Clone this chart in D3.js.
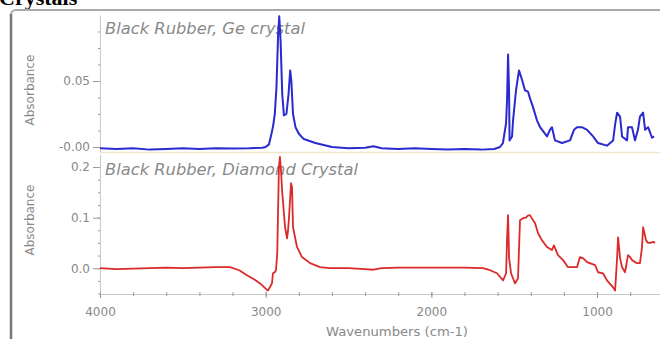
<!DOCTYPE html>
<html>
<head>
<meta charset="utf-8">
<script src="https://cdn.jsdelivr.net/npm/d3@7"></script>
<style>
  body { margin: 0; background: #fff; overflow: hidden; }
  svg { display: block; }
  .tick text { font-family: "DejaVu Sans", sans-serif; font-size: 12px; fill: #888; }
  .axis path.domain { stroke: #c8c8c8; }
  .axis line { stroke: #999; }
</style>
</head>
<body>
<svg id="chart" width="660" height="339"></svg>
<script>
// ---- data ----
var xTicks = [4000, 3000, 2000, 1000];
var geTicks = [0, 0.05];
var diamondTicks = [0, 0.1, 0.2];

// Black Rubber, Ge crystal (top, blue)
var geWavenumbers = [4000, 3900, 3800, 3700, 3600, 3500, 3400, 3300, 3200, 3100, 3020, 3000, 2980, 2965, 2955,
  2945, 2935, 2925, 2918, 2910, 2900, 2890, 2875, 2862, 2852, 2845, 2835, 2820, 2800, 2770, 2700, 2600, 2500,
  2400, 2350, 2300, 2200, 2100, 2000, 1900, 1800, 1700, 1620, 1586, 1568, 1549, 1543, 1537, 1531, 1528, 1513,
  1507, 1489, 1471, 1453, 1435, 1417, 1405, 1386, 1362, 1344, 1302, 1284, 1272, 1254, 1211, 1163, 1139, 1121,
  1091, 1060, 1024, 994, 940, 903, 891, 879, 861, 849, 819, 813, 789, 771, 753, 741, 722, 710, 692, 668, 656];
var geAbsorbance = [-0.001, -0.0015, -0.001, -0.002, -0.0015, -0.001, -0.0015, -0.001, -0.0012, -0.001, -0.0005,
  0.000, 0.002, 0.010, 0.016, 0.025, 0.045, 0.085, 0.099, 0.080, 0.040, 0.024, 0.025, 0.040, 0.058, 0.050, 0.025,
  0.015, 0.010, 0.006, 0.003, 0.000, -0.001, -0.0005, 0.0005, -0.001, -0.0015, -0.001, -0.0015, -0.002, -0.0015,
  -0.002, -0.0015, 0.000, 0.003, 0.018, 0.036, 0.070, 0.043, 0.005, 0.008, 0.020, 0.043, 0.058, 0.051, 0.043,
  0.042, 0.037, 0.030, 0.020, 0.015, 0.008, 0.013, 0.015, 0.005, 0.003, 0.005, 0.013, 0.015, 0.015, 0.013, 0.008,
  0.003, 0.001, 0.005, 0.017, 0.026, 0.023, 0.008, 0.005, 0.015, 0.015, 0.005, 0.013, 0.023, 0.026, 0.013, 0.015,
  0.007, 0.008];

// Black Rubber, Diamond Crystal (bottom, red)
var diamondWavenumbers = [4000, 3900, 3800, 3700, 3600, 3500, 3400, 3300, 3215, 3160, 3113, 3070, 3034, 2995,
  2986, 2962, 2956, 2945, 2938, 2930, 2926, 2920, 2914, 2907, 2901, 2883, 2871, 2865, 2859, 2847, 2841, 2835,
  2811, 2781, 2732, 2672, 2612, 2500, 2400, 2350, 2300, 2200, 2000, 1800, 1688, 1646, 1604, 1567, 1549, 1543,
  1537, 1531, 1519, 1495, 1477, 1465, 1447, 1429, 1417, 1405, 1392, 1374, 1356, 1332, 1302, 1272, 1260, 1236,
  1205, 1175, 1121, 1103, 1085, 1060, 1012, 994, 964, 940, 903, 891, 879, 873, 861, 849, 831, 813, 801, 789, 759,
  741, 729, 722, 704, 692, 680, 662, 650];
var diamondAbsorbance = [0.000, -0.002, -0.001, 0.000, 0.001, 0.000, 0.001, 0.002, 0.002, -0.004, -0.014, -0.022,
  -0.030, -0.042, -0.044, -0.030, -0.010, -0.008, -0.004, 0.030, 0.101, 0.200, 0.220, 0.190, 0.154, 0.081, 0.059,
  0.075, 0.101, 0.168, 0.160, 0.081, 0.042, 0.022, 0.010, 0.002, 0.000, 0.000, -0.002, -0.003, 0.000, 0.001,
  0.001, 0.001, 0.000, -0.004, -0.010, -0.024, -0.010, 0.060, 0.105, 0.020, -0.010, -0.030, -0.020, 0.095, 0.099,
  0.100, 0.104, 0.105, 0.098, 0.089, 0.069, 0.055, 0.042, 0.036, 0.045, 0.026, 0.016, 0.002, 0.002, 0.022, 0.020,
  0.012, 0.006, -0.008, -0.010, -0.024, -0.038, -0.044, 0.020, 0.061, 0.020, 0.002, -0.008, 0.026, 0.022, 0.016,
  0.010, 0.010, 0.040, 0.081, 0.055, 0.050, 0.050, 0.052, 0.050];

var svg = d3.select('#chart');

// outer panel frame and cut-off heading
svg.append('text')
  .attr('x', -1).attr('y', 5)
  .style('font-family', '"Liberation Serif", serif')
  .style('font-weight', 'bold').style('font-size', '22px')
  .text('Crystals');

svg.append('rect')
  .attr('x', 11).attr('y', 10).attr('width', 700).attr('height', 400).attr('rx', 5)
  .attr('fill', '#fff').attr('stroke', '#aaa').attr('stroke-width', 2);
svg.append('line')
  .attr('x1', 11).attr('x2', 11).attr('y1', 14).attr('y2', 339)
  .attr('stroke', '#777').attr('stroke-width', 2.5);

var x = d3.scaleLinear().domain([4000, 620]).range([100, 660]);
var yGe = d3.scaleLinear().domain([-0.0038, 0.1]).range([152, 15]);
var yDia = d3.scaleLinear().domain([-0.05, 0.225]).range([293.5, 154.4]);

// faint baseline of the top panel
svg.append('line')
  .attr('x1', 100).attr('x2', 660).attr('y1', 152.5).attr('y2', 152.5)
  .attr('stroke', '#efe8c8').attr('stroke-width', 1.5);

function drawYAxis(scale, ticks, minorStep, fmt) {
  var minor = d3.range(scale.domain()[0] - scale.domain()[0] % minorStep, scale.domain()[1], minorStep)
    .filter(function(v) { return v >= scale.domain()[0] && v <= scale.domain()[1]; });
  svg.append('g').attr('class', 'axis').attr('transform', 'translate(100,0)')
    .call(d3.axisLeft(scale).tickValues(minor).tickSize(2).tickSizeOuter(0).tickFormat(''));
  svg.append('g').attr('class', 'axis').attr('transform', 'translate(100,0)')
    .call(d3.axisLeft(scale).tickValues(ticks).tickSize(7).tickSizeOuter(0).tickPadding(3).tickFormat(fmt))
    .select('.domain').remove();
}

drawYAxis(yGe, geTicks, 0.0125, function(d) { return d === 0 ? '-0.00' : d3.format('.2f')(d); });
drawYAxis(yDia, diamondTicks, 0.025, d3.format('.1f'));

// shared wavenumber axis
var xMinor = svg.append('g').attr('class', 'axis').attr('transform', 'translate(0,294)')
  .call(d3.axisBottom(x).tickValues(d3.range(4000, 619, -200)).tickSize(2).tickSizeOuter(0).tickFormat(''));
xMinor.selectAll('.tick line').attr('y1', -2);
var xMajor = svg.append('g').attr('class', 'axis').attr('transform', 'translate(0,294)')
  .call(d3.axisBottom(x).tickValues(xTicks).tickSize(4).tickPadding(9).tickSizeOuter(0).tickFormat(d3.format('d')));
xMajor.select('.domain').remove();
xMajor.selectAll('.tick line').attr('y1', -2);

// axis titles
function yTitle(cy) {
  svg.append('text')
    .attr('transform', 'translate(34,' + cy + ') rotate(-90)')
    .attr('text-anchor', 'middle')
    .style('font-family', '"DejaVu Sans", sans-serif').style('font-size', '12px')
    .style('fill', '#888')
    .text('Absorbance');
}
yTitle(90);
yTitle(220);

svg.append('text')
  .attr('x', 397).attr('y', 336).attr('text-anchor', 'middle')
  .attr('textLength', 142).attr('lengthAdjust', 'spacingAndGlyphs')
  .style('font-family', '"DejaVu Sans", sans-serif').style('font-size', '12px')
  .style('fill', '#888')
  .text('Wavenumbers (cm-1)');

// panel captions (drawn under the spectra)
function caption(y, label, len) {
  svg.append('text')
    .attr('x', 105).attr('y', y)
    .attr('textLength', len).attr('lengthAdjust', 'spacingAndGlyphs')
    .style('font-family', '"DejaVu Sans", sans-serif').style('font-style', 'italic')
    .style('font-size', '15px').style('fill', '#8a8a8a')
    .text(label);
}
caption(34, 'Black Rubber, Ge crystal', 200);
caption(175, 'Black Rubber, Diamond Crystal', 253);

// spectra
var geData = geWavenumbers.map(function(w, i) { return [w, geAbsorbance[i]]; });
var diaData = diamondWavenumbers.map(function(w, i) { return [w, diamondAbsorbance[i]]; });

svg.append('path').datum(geData)
  .attr('fill', 'none').attr('stroke', '#2a2ad0').attr('stroke-width', 2).attr('stroke-linejoin', 'round')
  .attr('d', d3.line().x(function(d) { return x(d[0]); }).y(function(d) { return yGe(d[1]); }));

svg.append('path').datum(diaData)
  .attr('fill', 'none').attr('stroke', '#dc2a2a').attr('stroke-width', 1.8).attr('stroke-linejoin', 'round')
  .attr('d', d3.line().x(function(d) { return x(d[0]); }).y(function(d) { return yDia(d[1]); }));
</script>
</body>
</html>
